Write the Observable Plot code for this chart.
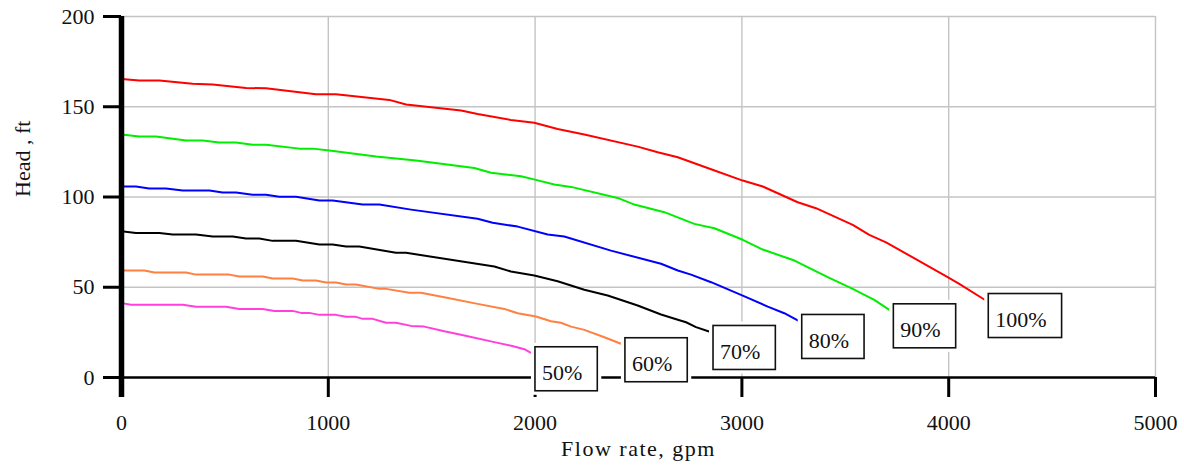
<!DOCTYPE html>
<html>
<head>
<meta charset="utf-8">
<script src="https://cdn.jsdelivr.net/npm/d3@7"></script>
<script src="https://cdn.jsdelivr.net/npm/@observablehq/plot@0.6"></script>
<style>
  html, body { margin: 0; padding: 0; background: #fff; }
  #chart svg { display: block; }
</style>
</head>
<body>
<div id="chart"></div>
<script>
// ---- Data ----
const speeds = ["100%", "90%", "80%", "70%", "60%", "50%"];
const colors = ["#ff0000", "#00ee00", "#0000ff", "#000000", "#ff8040", "#ff40dd"];

const flow100 = [0,86,183,344,441,602,699,940,1037,1295,1376,1642,1722,1883,1996,2109,2238,2496,2593,2690,2851,3004,3101,3270,3358,3536,3616,3697,3995,4051,4172];
const head100 = [165.4,164.5,164.5,162.7,162.3,160.4,160.2,156.9,156.9,153.8,151.2,147.9,146,142.7,141.1,137.7,134.6,127.9,124.8,122,115.4,109.1,105.8,97.1,93.8,84.6,79,74.9,55.6,51.9,43.2];

const flow90 = [0,86,167,312,393,473,554,634,699,860,925,1005,1231,1424,1706,1787,1932,2004,2093,2174,2399,2480,2625,2770,2867,3004,3101,3254,3415,3536,3640,3713];
const head90 = [134.6,133.5,133.5,131.3,131.3,130.2,130.2,129,129,126.8,126.8,125.7,122.4,120.2,116.1,113.4,111.5,109.5,106.9,105.6,99.5,95.8,91.6,85.1,82.7,76.3,70.9,64.8,55.6,49.1,43,37.5];

const flow80 = [0,70,134,215,296,425,489,554,634,699,763,844,957,1021,1166,1247,1400,1722,1795,1916,2061,2141,2367,2609,2690,2754,2851,3004,3125,3205,3270];
const head80 = [105.8,105.8,104.7,104.7,103.6,103.6,102.5,102.5,101.2,101.2,100.1,100.1,98,98,95.8,95.8,93,87.9,85.7,83.6,79.2,78.1,70.3,63,59.3,57,52.8,45.4,39.3,35.6,31.6];

const flow70 = [0,70,183,247,360,441,538,602,666,731,844,957,1021,1086,1150,1327,1376,1803,1883,1996,2109,2238,2351,2496,2609,2690,2730,2778,2841];
const head70 = [81,80.1,80.1,79.2,79.2,78.1,78.1,77,77,75.7,75.7,73.7,73.7,72.6,72.6,69.1,69.1,61.5,58.7,56.5,53.3,48.6,45.4,39.9,34.9,32,30.6,27.9,25.5];

const flow60 = [0,110,159,312,360,521,570,683,731,828,876,940,989,1037,1086,1134,1247,1279,1392,1448,1561,1722,1851,1916,2004,2077,2125,2174,2238,2335,2415];
const head60 = [59.3,59.3,58.2,58.2,57,57,55.9,55.9,54.8,54.8,53.7,53.7,52.6,52.6,51.5,51.5,49.1,49.1,46.9,46.9,44.5,40.8,38,35.6,33.8,31.2,30.3,28.2,26.4,22.3,18.7];

const flow50 = [0,46,296,360,505,570,683,739,828,868,908,957,1037,1086,1134,1166,1215,1279,1327,1400,1464,1561,1658,1803,1899,1948,1980];
const head50 = [41.2,40.3,40.3,39.2,39.2,38,38,36.9,36.9,35.8,35.8,34.7,34.7,33.6,33.6,32.5,32.5,30.3,30.3,28.6,28.2,25.6,23.3,19.6,17.2,15.7,13.7];

const xTicks = [0, 1000, 2000, 3000, 4000, 5000];
const yTicks = [0, 50, 100, 150, 200];
const xLabel = "Flow rate, gpm";
const yLabel = "Head , ft";

// ---- Build table ----
const flows = [flow100, flow90, flow80, flow70, flow60, flow50];
const heads = [head100, head90, head80, head70, head60, head50];
const rows = [];
speeds.forEach((s, k) => flows[k].forEach((f, i) => rows.push({speed: s, flow: f, head: heads[k][i]})));
const ends = speeds.map((s, k) => ({speed: s, flow: flows[k][flows[k].length - 1], head: heads[k][heads[k].length - 1]}));

const FONT = "'Liberation Serif', 'Times New Roman', serif";
const LDX = 11, LDY = 20;

function boxedLabels(index, scales, values, dimensions, context, next) {
  const g = next(index, scales, values, dimensions, context);
  const ctx = document.createElement("canvas").getContext("2d");
  ctx.font = "22px 'Liberation Serif'";
  const ns = "http://www.w3.org/2000/svg";
  const boxes = document.createElementNS(ns, "g");
  for (const i of index) {
    // the mark's group is already translated by (dx, dy)
    const x0 = values.x[i] + 4 - LDX;
    const y0 = values.y[i] - 6 - LDY;
    const w = ctx.measureText(ends[i].speed).width + 22;
    const h = 44;
    const halo = document.createElementNS(ns, "rect");
    halo.setAttribute("x", x0 - 4); halo.setAttribute("y", y0 - 4);
    halo.setAttribute("width", w + 8); halo.setAttribute("height", h + 8);
    halo.setAttribute("fill", "white");
    boxes.appendChild(halo);
    const r = document.createElementNS(ns, "rect");
    r.setAttribute("x", x0); r.setAttribute("y", y0);
    r.setAttribute("width", w); r.setAttribute("height", h);
    r.setAttribute("fill", "white"); r.setAttribute("stroke", "#111");
    r.setAttribute("stroke-width", 1.6);
    boxes.appendChild(r);
  }
  g.insertBefore(boxes, g.firstChild);
  return g;
}

const chart = Plot.plot({
  width: 1184,
  height: 469,
  marginLeft: 121,
  marginRight: 29,
  marginTop: 16,
  marginBottom: 92,
  style: {fontFamily: FONT, fontSize: "22px", color: "#111", background: "white", overflow: "visible"},
  x: {domain: [0, 5000]},
  y: {domain: [0, 200]},
  color: {domain: speeds, range: colors},
  marks: [
    Plot.gridX(xTicks.filter(d => d > 0), {stroke: "#c4c4c4", strokeOpacity: 1, strokeWidth: 1.4}),
    Plot.gridY(yTicks.filter(d => d > 0), {stroke: "#c4c4c4", strokeOpacity: 1, strokeWidth: 1.4}),
    Plot.line(rows, {x: "flow", y: "head", z: "speed", stroke: "speed", strokeWidth: 2}),
    Plot.ruleY([0], {stroke: "#000", strokeWidth: 2.5}),
    Plot.ruleX([0], {stroke: "#000", strokeWidth: 5.5, insetBottom: -20}),
    Plot.axisX({ticks: xTicks, tickSize: 20, tickPadding: 17, strokeWidth: 3, stroke: "#000",
      tickFormat: d => String(d), fontSize: 22, fontFamily: FONT, label: null}),
    Plot.axisY({ticks: yTicks, tickSize: 18, tickPadding: 9, strokeWidth: 3, stroke: "#000",
      tickFormat: d => String(d), fontSize: 22, fontFamily: FONT, label: null}),
    Plot.text(ends, {x: "flow", y: "head", text: "speed", textAnchor: "start", dx: LDX, dy: LDY,
      fontSize: 22, fontFamily: FONT, fill: "#111", render: boxedLabels}),
    Plot.text([xLabel], {frameAnchor: "bottom", dy: 78, fontSize: 22, fontFamily: FONT, fill: "#111"}),
    Plot.text([yLabel], {frameAnchor: "left", dx: -99, rotate: -90, fontSize: 22, fontFamily: FONT, fill: "#111"})
  ]
});

document.getElementById("chart").appendChild(chart);
d3.select(chart).selectAll("text")
  .filter(function() { return this.textContent === xLabel; })
  .style("letter-spacing", "1.5px");
</script>
</body>
</html>
